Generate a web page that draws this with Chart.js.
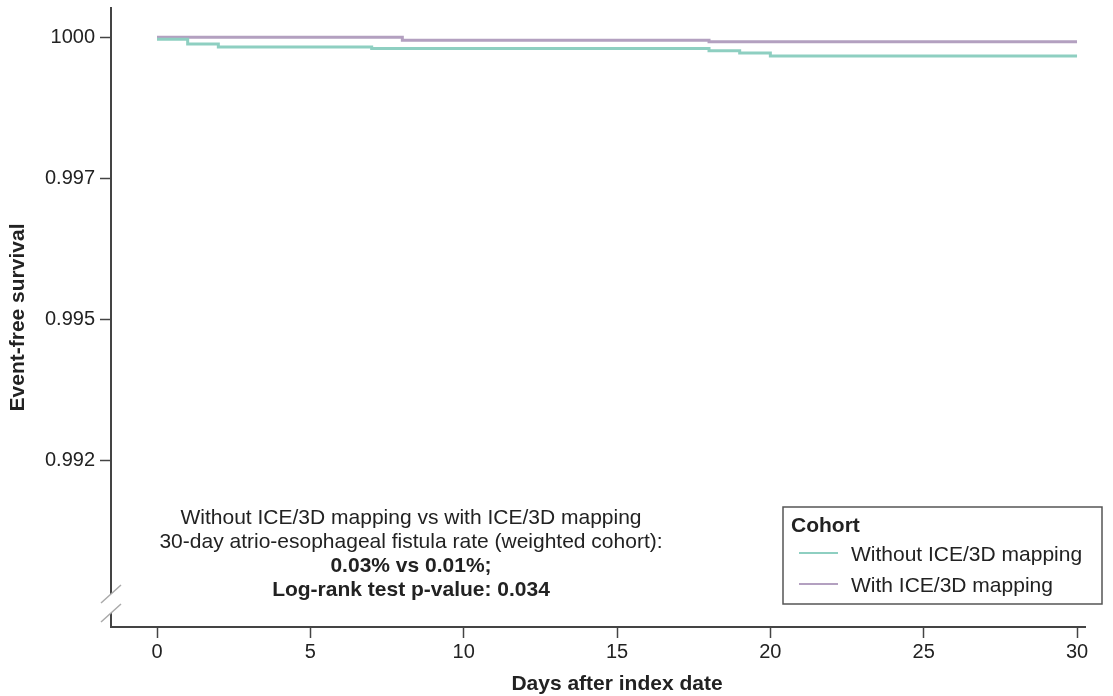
<!DOCTYPE html>
<html>
<head>
<meta charset="utf-8">
<script src="https://cdn.jsdelivr.net/npm/chart.js@4.4.0/dist/chart.umd.min.js"></script>
<style>
  body { margin: 0; background: #fff; }
  #chart { display: block; }
</style>
</head>
<body>
<canvas id="chart" width="1113" height="696"></canvas>
<script>
// Datos (supervivencia libre de eventos)
const diasSin = [0, 1, 2, 7, 18, 19, 20, 30];
const survSin = [0.999965, 0.99988, 0.99983, 0.99980, 0.99976, 0.99972, 0.99967, 0.99967];

const diasCon = [0, 8, 18, 30];
const survCon = [1.0, 0.99995, 0.99992, 0.99992];

const etiquetas = ['Without ICE/3D mapping', 'With ICE/3D mapping'];
const colores = ['#8ecfc1', '#b3a0c0'];

// Ejes
const xTicks = [0, 5, 10, 15, 20, 25, 30];
const yTicks = [1.0, 0.9975, 0.995, 0.9925];
const yTickLabels = ['1000', '0.997', '0.995', '0.992'];
const xMin = -1.5, xMax = 30.26;
const yMin = 0.989544, yMax = 1.00052;

const notaLineas = [
    { text: 'Without ICE/3D mapping vs with ICE/3D mapping', bold: false },
    { text: '30-day atrio-esophageal fistula rate (weighted cohort):', bold: false },
    { text: '0.03% vs 0.01%;', bold: true },
    { text: 'Log-rank test p-value: 0.034', bold: true }
];

const FONT = '"Liberation Sans", Arial, Helvetica, sans-serif';
const AXIS = '#444';

function puntos(xs, ys) {
    return xs.map((x, i) => ({ x: x, y: ys[i] }));
}

// Plugin: leyenda, nota, titulo del eje x y corte del eje y
const extras = {
    id: 'extras',
    afterDraw(chart) {
        const ctx = chart.ctx;
        const xs = chart.scales.x;
        ctx.save();

        // corte del eje y
        ctx.fillStyle = '#fff';
        ctx.fillRect(xs.left - 4, 594, 8, 19);
        ctx.strokeStyle = '#aaa';
        ctx.lineWidth = 1.5;
        ctx.beginPath();
        ctx.moveTo(101, 603); ctx.lineTo(121, 585);
        ctx.moveTo(101, 622); ctx.lineTo(121, 604);
        ctx.stroke();

        // titulo eje x (centrado sobre 0-30)
        ctx.fillStyle = '#222';
        ctx.font = 'bold 21px ' + FONT;
        ctx.textAlign = 'center';
        ctx.textBaseline = 'alphabetic';
        const cx = (xs.getPixelForValue(0) + xs.getPixelForValue(30)) / 2;
        ctx.fillText('Days after index date', cx, 690);

        // nota
        notaLineas.forEach((l, i) => {
            ctx.font = (l.bold ? 'bold ' : '') + '21px ' + FONT;
            ctx.fillText(l.text, 411, 524 + i * 24);
        });

        // leyenda
        ctx.strokeStyle = '#555';
        ctx.lineWidth = 1.5;
        ctx.strokeRect(783, 507, 319, 97);
        ctx.textAlign = 'left';
        ctx.font = 'bold 21px ' + FONT;
        ctx.fillText('Cohort', 791, 532);
        ctx.font = '21px ' + FONT;
        chart.data.datasets.forEach((ds, i) => {
            const yy = 553 + i * 31;
            ctx.strokeStyle = ds.borderColor;
            ctx.lineWidth = 2;
            ctx.beginPath();
            ctx.moveTo(799, yy); ctx.lineTo(838, yy);
            ctx.stroke();
            ctx.fillText(ds.label, 851, yy + 8);
        });
        ctx.restore();
    }
};

new Chart(document.getElementById('chart'), {
    type: 'line',
    data: {
        datasets: [
            {
                label: etiquetas[0],
                data: puntos(diasSin, survSin),
                borderColor: colores[0],
                borderWidth: 3,
                stepped: 'before',
                pointRadius: 0,
                fill: false
            },
            {
                label: etiquetas[1],
                data: puntos(diasCon, survCon),
                borderColor: colores[1],
                borderWidth: 3,
                stepped: 'before',
                pointRadius: 0,
                fill: false
            }
        ]
    },
    options: {
        responsive: false,
        animation: false,
        layout: { padding: { left: 0, right: 28, top: 8, bottom: 0 } },
        plugins: {
            legend: { display: false },
            tooltip: { enabled: false }
        },
        scales: {
            x: {
                type: 'linear',
                min: xMin,
                max: xMax,
                afterBuildTicks: (s) => { s.ticks = xTicks.map(v => ({ value: v })); },
                afterFit: (s) => { s.height = 69; s.paddingLeft = 0; s.paddingRight = 0; },
                ticks: {
                    color: '#222',
                    font: { family: FONT, size: 20 },
                    padding: 2,
                    maxRotation: 0
                },
                grid: {
                    drawOnChartArea: false,
                    tickLength: 11,
                    tickColor: AXIS,
                    tickWidth: 1.5
                },
                border: { color: AXIS, width: 2 }
            },
            y: {
                type: 'linear',
                min: yMin,
                max: yMax,
                afterBuildTicks: (s) => { s.ticks = yTicks.map(v => ({ value: v })); },
                afterFit: (s) => { s.width = 111; s.paddingTop = 0; s.paddingBottom = 0; },
                ticks: {
                    color: '#222',
                    font: { family: FONT, size: 20 },
                    padding: 5,
                    callback: (v) => yTickLabels[yTicks.indexOf(v)]
                },
                grid: {
                    drawOnChartArea: false,
                    tickLength: 11,
                    tickColor: AXIS,
                    tickWidth: 1.5
                },
                border: { color: AXIS, width: 2 },
                title: {
                    display: true,
                    text: 'Event-free survival',
                    color: '#222',
                    font: { family: FONT, size: 21, weight: 'bold' },
                    padding: { top: 6, bottom: 0 }
                }
            }
        }
    },
    plugins: [extras]
});
</script>
</body>
</html>
